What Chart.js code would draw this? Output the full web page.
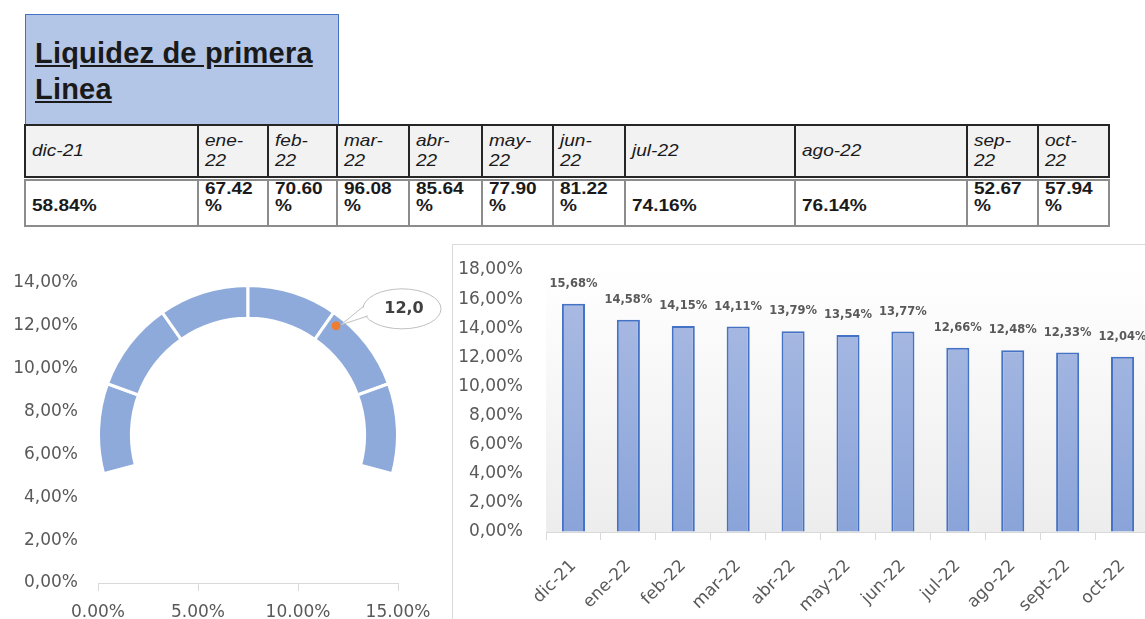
<!DOCTYPE html>
<html>
<head>
<meta charset="utf-8">
<script src="https://cdn.jsdelivr.net/npm/chart.js@4.4.0/dist/chart.umd.min.js"></script>
<style>
body { margin:0; width:1145px; height:619px; overflow:hidden; position:relative; background:#fff; font-family:"Liberation Sans", Arial, sans-serif; }
#titulo { position:absolute; left:25px; top:14px; width:312px; height:109px; background:#b4c6e7; border:1px solid #4472c4; }
#titulo span { position:absolute; left:9px; top:20px; font-weight:bold; font-size:29px; line-height:36px; letter-spacing:0.2px; text-decoration:underline; color:#1a1a1a; }
.cab, .val { position:absolute; box-sizing:border-box; display:flex; flex-direction:column; padding-left:6px; font-size:17px; color:#1a1a1a; }
.cab { top:124px; height:54px; border:2px solid #262626; background:#f2f2f2; justify-content:center; font-style:italic; line-height:20px; }
.val { top:179px; height:48px; border:2px solid #8c8c8c; background:#fff; justify-content:flex-end; padding-bottom:11px; font-weight:bold; line-height:17px; }
.cab span, .val span { display:block; transform:scaleX(1.12); transform-origin:left center; white-space:nowrap; }
#gauge { position:absolute; left:0; top:240px; width:460px; height:400px; }
#arco { position:absolute; left:97px; top:282px; width:302px; height:195px; }
#barras { position:absolute; left:452px; top:244px; width:720px; height:400px; box-sizing:border-box; border-left:1px solid #d9d9d9; border-top:1px solid #d9d9d9; }
</style>
</head>
<body>
<div id="titulo"><span>Liquidez de primera<br>Linea</span></div>
<div id="tabla"></div>
<div id="arco"><canvas id="cArco"></canvas></div>
<div id="gauge"><canvas id="cGauge"></canvas></div>
<div id="barras"><canvas id="cBarras"></canvas></div>
<script>
// tabla superior
var mesesTabla = ['dic-21', 'ene-22', 'feb-22', 'mar-22', 'abr-22', 'may-22', 'jun-22', 'jul-22', 'ago-22', 'sep-22', 'oct-22'];
var liquidezTabla = ['58.84%', '67.42%', '70.60%', '96.08%', '85.64%', '77.90%', '81.22%', '74.16%', '76.14%', '52.67%', '57.94%'];

// indicador (gauge)
var segmentosArco = [1, 1, 1, 1, 1, 1];
var puntoX = [11.9];
var puntoY = [12.0];
var etiquetaPunto = ['12,0'];

// barras
var mesesBarras = ['dic-21', 'ene-22', 'feb-22', 'mar-22', 'abr-22', 'may-22', 'jun-22', 'jul-22', 'ago-22', 'sept-22', 'oct-22'];
var tasas = [15.68, 14.58, 14.15, 14.11, 13.79, 13.54, 13.77, 12.66, 12.48, 12.33, 12.04];

var bordesCol = [25, 198, 268, 337, 409, 482, 553, 625, 795, 967, 1038, 1109];
var tabla = document.getElementById('tabla');
for (var i = 0; i < mesesTabla.length; i++) {
    var ancho = bordesCol[i + 1] - bordesCol[i];
    var angosta = ancho < 120;
    var cab = document.createElement('div');
    cab.className = 'cab';
    cab.style.left = (bordesCol[i] - 1) + 'px';
    cab.style.width = (ancho + 2) + 'px';
    var m = mesesTabla[i];
    var lineasCab = angosta ? [m.split('-')[0] + '-', m.split('-')[1]] : [m];
    cab.innerHTML = lineasCab.map(function (t) { return '<span>' + t + '</span>'; }).join('');
    tabla.appendChild(cab);

    var val = document.createElement('div');
    val.className = 'val';
    val.style.left = (bordesCol[i] - 1) + 'px';
    val.style.width = (ancho + 2) + 'px';
    var v = liquidezTabla[i];
    var lineasVal = angosta ? [v.replace('%', ''), '%'] : [v];
    val.innerHTML = lineasVal.map(function (t) { return '<span>' + t + '</span>'; }).join('');
    tabla.appendChild(val);
}

var fuente = 'DejaVu Sans';
var gris = '#595959';
function pct(v) { return v.toFixed(2).replace('.', ',') + '%'; }

new Chart(document.getElementById('cArco'), {
    type: 'doughnut',
    data: {
        labels: ['1', '2', '3', '4', '5', '6'],
        datasets: [{
            data: segmentosArco,
            backgroundColor: '#8eaadb',
            borderColor: '#ffffff',
            borderWidth: 3
        }]
    },
    options: {
        responsive: true,
        maintainAspectRatio: false,
        animation: false,
        events: [],
        rotation: -105,
        circumference: 210,
        cutout: '78%',
        plugins: { legend: { display: false }, tooltip: { enabled: false } }
    }
});

var globo = {
    id: 'globo',
    afterDatasetsDraw: function (chart) {
        var ctx = chart.ctx;
        var p = chart.getDatasetMeta(0).data[0];
        var cx = p.x + 66, cy = p.y - 17, rx = 39, ry = 20;
        ctx.save();
        ctx.lineWidth = 1;
        ctx.strokeStyle = '#bfbfbf';
        ctx.fillStyle = '#ffffff';
        ctx.beginPath();
        ctx.ellipse(cx, cy, rx, ry, 0, 0, Math.PI * 2);
        ctx.fill();
        ctx.stroke();
        ctx.beginPath();
        ctx.moveTo(cx - rx + 3, cy - 3);
        ctx.lineTo(p.x + 5, p.y - 1);
        ctx.lineTo(cx - rx + 6, cy + 6);
        ctx.closePath();
        ctx.fill();
        ctx.beginPath();
        ctx.moveTo(cx - rx + 1, cy - 3);
        ctx.lineTo(p.x + 5, p.y - 1);
        ctx.lineTo(cx - rx + 5, cy + 7);
        ctx.stroke();
        ctx.fillStyle = '#404040';
        ctx.font = 'bold 16px ' + fuente;
        ctx.textAlign = 'center';
        ctx.textBaseline = 'middle';
        ctx.fillText(etiquetaPunto[0], cx + 2, cy);
        ctx.restore();
    }
};

new Chart(document.getElementById('cGauge'), {
    type: 'scatter',
    data: {
        datasets: [{
            data: puntoX.map(function (x, k) { return { x: x, y: puntoY[k] }; }),
            backgroundColor: '#ed7d31',
            borderColor: '#ed7d31',
            pointRadius: 4
        }]
    },
    options: {
        responsive: true,
        maintainAspectRatio: false,
        animation: false,
        events: [],
        layout: { padding: { top: 43, right: 62, left: 0, bottom: 0 } },
        plugins: { legend: { display: false }, tooltip: { enabled: false } },
        scales: {
            x: {
                type: 'linear', min: 0, max: 15,
                afterFit: function (s) { s.height = 57; },
                grid: { drawOnChartArea: false, drawTicks: true, tickLength: 8, color: '#d9d9d9' },
                border: { color: '#d9d9d9' },
                ticks: { stepSize: 5, padding: 11, color: gris, font: { family: fuente, size: 17 },
                    callback: function (v) { return v.toFixed(2) + '%'; } }
            },
            y: {
                min: 0, max: 14,
                afterFit: function (s) { s.width = 98; },
                grid: { display: false, drawTicks: false },
                border: { display: false },
                ticks: { stepSize: 2, padding: 20, color: gris, font: { family: fuente, size: 17 },
                    callback: function (v) { return pct(v); } }
            }
        }
    },
    plugins: [globo]
});

var fondoArea = {
    id: 'fondoArea',
    beforeDatasetsDraw: function (chart) {
        var a = chart.chartArea, ctx = chart.ctx;
        var g = ctx.createLinearGradient(0, a.top, 0, a.bottom);
        g.addColorStop(0, '#ffffff');
        g.addColorStop(1, '#ededed');
        ctx.save();
        ctx.fillStyle = g;
        ctx.fillRect(a.left, a.top, a.right - a.left, a.bottom - a.top);
        ctx.restore();
    }
};

var etiquetas = {
    id: 'etiquetas',
    afterDatasetsDraw: function (chart) {
        var ctx = chart.ctx;
        var meta = chart.getDatasetMeta(0);
        ctx.save();
        ctx.fillStyle = gris;
        ctx.font = 'bold 11.5px ' + fuente;
        ctx.textAlign = 'center';
        ctx.textBaseline = 'middle';
        meta.data.forEach(function (bar, k) {
            ctx.fillText(pct(tasas[k]), bar.x, bar.y - 20);
        });
        ctx.restore();
    }
};

new Chart(document.getElementById('cBarras'), {
    type: 'bar',
    data: {
        labels: mesesBarras,
        datasets: [{
            data: tasas,
            backgroundColor: function (context) {
                var a = context.chart.chartArea;
                if (!a) return '#9fb3e0';
                var g = context.chart.ctx.createLinearGradient(0, a.top, 0, a.bottom);
                g.addColorStop(0, '#adbde4');
                g.addColorStop(1, '#8aa4d9');
                return g;
            },
            borderColor: '#4472c4',
            borderWidth: 2,
            barPercentage: 0.42,
            categoryPercentage: 1
        }]
    },
    options: {
        responsive: true,
        maintainAspectRatio: false,
        animation: false,
        events: [],
        layout: { padding: { top: 25, right: 22, left: 0, bottom: 0 } },
        plugins: { legend: { display: false }, tooltip: { enabled: false } },
        scales: {
            x: {
                afterFit: function (s) { s.height = 112; },
                grid: { offset: true, drawOnChartArea: false, drawTicks: true, tickLength: 8, color: '#d9d9d9' },
                border: { color: '#d9d9d9' },
                ticks: { minRotation: 45, maxRotation: 45, padding: 16, color: gris, font: { family: fuente, size: 17 } }
            },
            y: {
                min: 0, max: 18,
                afterFit: function (s) { s.width = 93; },
                // marcas invisibles para separar las etiquetas sin agrandar el margen superior
                grid: { drawOnChartArea: false, drawTicks: true, tickLength: 23, color: 'rgba(0,0,0,0)' },
                border: { display: false },
                ticks: { stepSize: 2, padding: 0, color: gris, font: { family: fuente, size: 17 },
                    callback: function (v) { return pct(v); } }
            }
        }
    },
    plugins: [fondoArea, etiquetas]
});
</script>
</body>
</html>
